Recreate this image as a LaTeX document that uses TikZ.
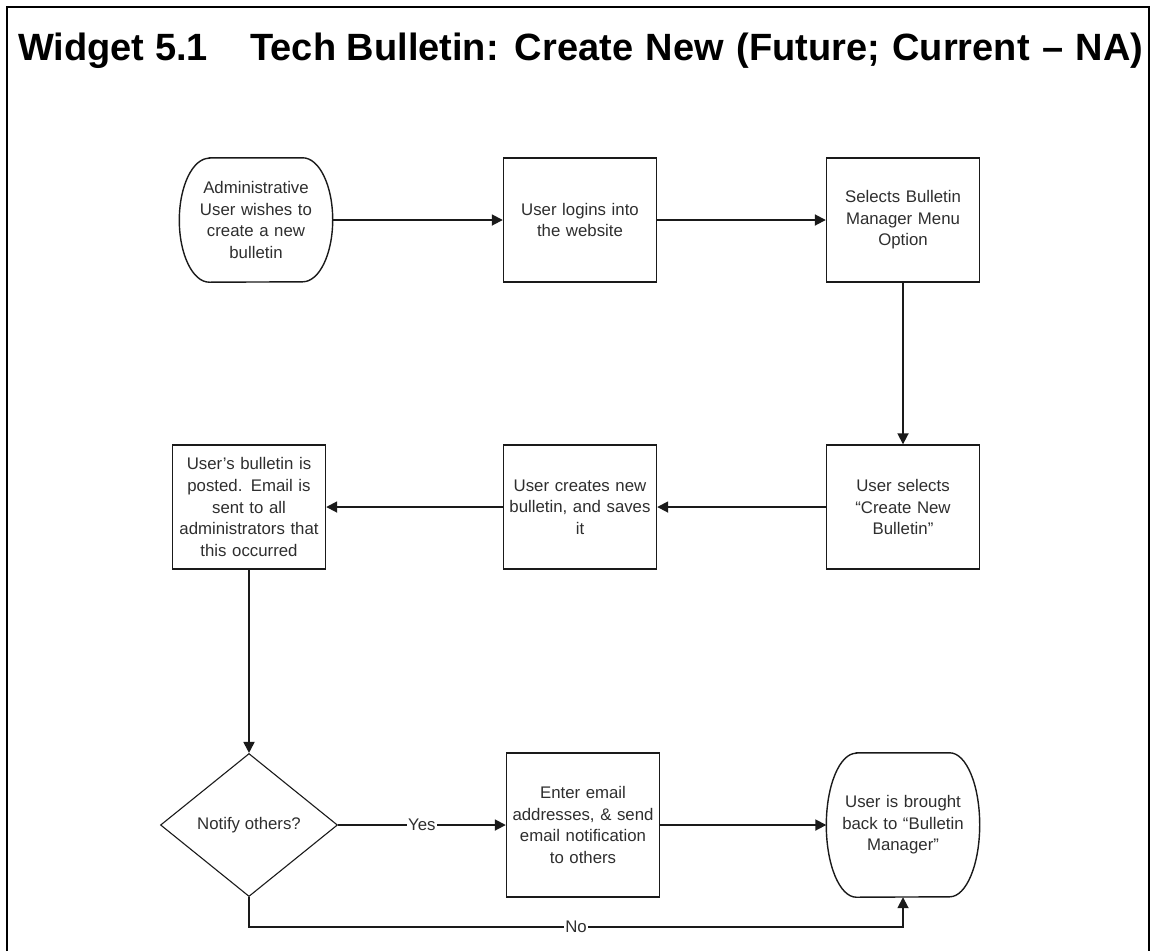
\documentclass[tikz,border=0pt]{standalone}
\usepackage{fontspec}
\setmainfont{Liberation Sans}
\usetikzlibrary{arrows.meta,positioning,shapes.geometric,calc}
\definecolor{LineGray}{HTML}{1A1A1A}
\definecolor{TextGray}{HTML}{2E2E2E}

\newcommand\boxfont{\fontsize{16.8}{21.6}\selectfont}

% terminator outline: flat top and bottom, half-ellipse sides
\newcommand\termframe[2]{%
  \draw[LineGray,line width=1.4pt]
    ($(#1.north west)+(30,0)$) -- ($(#1.north east)+(-30,0)$)
    arc[start angle=90,end angle=-90,x radius=30pt,y radius=#2]
    -- ($(#1.south west)+(30,0)$)
    arc[start angle=270,end angle=90,x radius=30pt,y radius=#2] -- cycle;}

\tikzset{
  stepbox/.style={draw=LineGray,line width=1.4pt,minimum width=153pt,
    minimum height=124pt,text width=148pt,align=center,inner sep=0pt,
    font=\boxfont,text=TextGray},
  termnode/.style={minimum width=153pt,minimum height=124pt,
    text width=140pt,align=center,inner sep=0pt,font=\boxfont,text=TextGray},
  decide/.style={diamond,draw=LineGray,line width=1.1pt,minimum width=177pt,
    minimum height=143pt,inner sep=0pt,font=\boxfont,text=TextGray},
  flow/.style={draw=LineGray,line width=1.8pt,-{Triangle[length=11pt,width=11pt]}},
  flowlabel/.style={fill=white,inner sep=1pt,font=\boxfont,text=TextGray}
}

\begin{document}
\begin{tikzpicture}[x=1pt,y=-1pt]
  \useasboundingbox (0,0) rectangle (1153,951);
  % page frame, open at the bottom
  \draw[line width=2.2pt] (7,951) -- (7,7) -- (1149,7) -- (1149,951);
  \node[anchor=base west,inner sep=0pt,font=\bfseries\fontsize{38}{40}\selectfont] (title)
    at (18,60) {Widget 5.1\hspace{32pt} Tech Bulletin:\hspace{2pt} Create\hspace{2pt} New\hspace{2pt} (Future;\hspace{2pt} Current\hspace{2pt} --\hspace{2pt} NA)};

  % top row
  \node[termnode] (start) at (256,220) {Administrative\\User wishes to\\create a new\\bulletin};
  \termframe{start}{62pt}
  \node[stepbox] (login) at (580,220) {User logins into\\the website};
  \node[stepbox] (menu) at (903,220) {Selects Bulletin\\Manager Menu\\Option};

  % middle row
  \node[stepbox] (pick) at (903,507) {User selects\\“Create New\\Bulletin”};
  \node[stepbox] (create) at (580,507) {User creates new\\bulletin, and saves\\it};
  \node[stepbox] (posted) at (249,507) {User’s bulletin is\\posted.  Email is\\sent to all\\administrators that\\this occurred};

  % bottom row
  \node[decide] (notify) at (249,825) {Notify others?};
  \node[stepbox,minimum height=144pt] (email) at (583,825) {Enter email\\addresses, \& send\\email notification\\to others};
  \node[termnode,minimum height=144pt] (back) at (903,825) {User is brought\\back to “Bulletin\\Manager”};
  \termframe{back}{72pt}

  \draw[flow] (start) -- (login);
  \draw[flow] (login) -- (menu);
  \draw[flow] (menu) -- (pick);
  \draw[flow] (pick) -- (create);
  \draw[flow] (create) -- (posted);
  \draw[flow] (posted) -- (notify);
  \draw[flow] (notify) -- node[flowlabel]{Yes} (email);
  \draw[flow] (email) -- (back);
  \draw[flow] (notify.south) |- node[flowlabel,pos=0.75]{No} ($(back.south)+(0,30)$) -- (back.south);
\end{tikzpicture}
\end{document}
